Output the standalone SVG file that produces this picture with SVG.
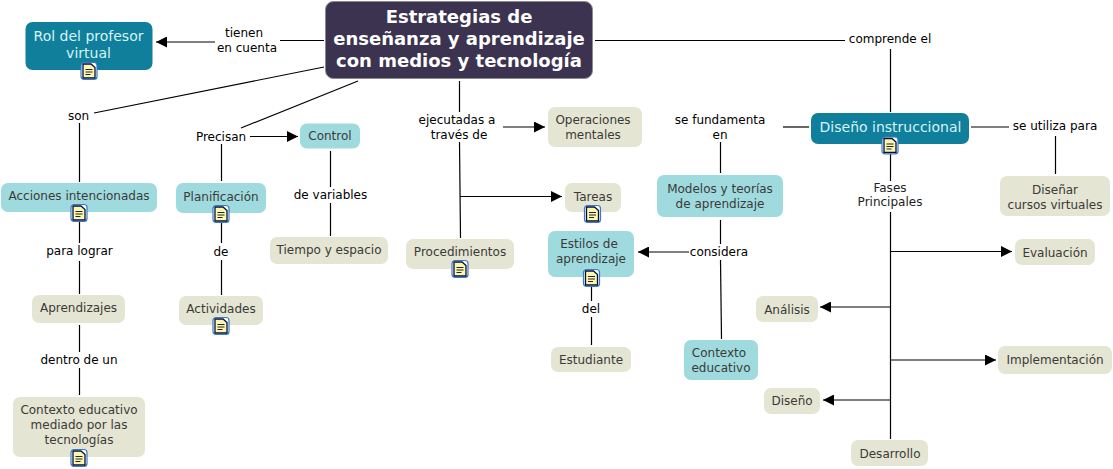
<svg xmlns="http://www.w3.org/2000/svg" width="1113" height="469" viewBox="0 0 1113 469">
<style>
text{font-family:"DejaVu Sans","Verdana",sans-serif;font-size:12px;text-anchor:middle}
.t{fill:#0f7f9b}.l{fill:#9fdade}.b{fill:#e4e5d2}
.tt{fill:#d6f3f7;font-size:14px}
.dk{fill:#3b3a38}.lab{fill:#000}
.c line{stroke:#000;stroke-width:1.2;fill:none}
.main{fill:#fff;font-size:18px;font-weight:bold}
</style>
<defs>
<marker id="a" viewBox="0 0 11 11" refX="11" refY="5.5" markerUnits="userSpaceOnUse" markerWidth="11" markerHeight="11" orient="auto"><path d="M0 0L11 5.5L0 11Z" fill="#000"/></marker>
<g id="i"><rect x="0.5" y="0.5" width="16" height="17" rx="3" fill="#fff" stroke="#3a78cc" stroke-width="1.2"/><path d="M2.5 2H10.5L14.5 5.5V16H2.5Z" fill="#fdf6b0" stroke="#00103a" stroke-width="1.3"/><path d="M5 7.5H12M5 10H12M5 12.5H10" stroke="#222" stroke-width="1"/></g>
</defs>
<g class="c" id="connectors">
<line x1="280" y1="40.5" x2="324" y2="40.5"/><line x1="215" y1="42" x2="156" y2="42" marker-end="url(#a)"/>
<line x1="324" y1="67" x2="94" y2="113"/><line x1="79.5" y1="123" x2="79.5" y2="182"/><line x1="79.5" y1="222" x2="79.5" y2="243"/><line x1="79.5" y1="261" x2="79.5" y2="294"/><line x1="79.5" y1="325" x2="79.5" y2="352"/><line x1="79.5" y1="368" x2="79.5" y2="395"/>
<line x1="358" y1="81" x2="241" y2="128"/><line x1="250" y1="136.5" x2="298" y2="136.5" marker-end="url(#a)"/><line x1="221.5" y1="144" x2="221.5" y2="181"/><line x1="221.5" y1="223" x2="221.5" y2="243"/><line x1="221.5" y1="260" x2="221.5" y2="295"/><line x1="330.5" y1="151" x2="330.5" y2="187"/><line x1="330.5" y1="203" x2="330.5" y2="236"/>
<line x1="459.5" y1="81" x2="459.5" y2="112"/><line x1="503" y1="127" x2="545" y2="127" marker-end="url(#a)"/><line x1="459.5" y1="142" x2="460.5" y2="238"/><line x1="460" y1="196.5" x2="562" y2="196.5" marker-end="url(#a)"/>
<line x1="783" y1="127" x2="809" y2="127"/><line x1="720.5" y1="142" x2="720.5" y2="173"/><line x1="720.5" y1="220" x2="720.5" y2="244"/><line x1="689" y1="252" x2="638" y2="252" marker-end="url(#a)"/><line x1="720.5" y1="260" x2="721.5" y2="339"/>
<line x1="591.5" y1="287" x2="591.5" y2="301"/><line x1="591.5" y1="317" x2="591.5" y2="345"/>
<line x1="595" y1="40.5" x2="845" y2="40.5"/><line x1="890.5" y1="49" x2="890.5" y2="112"/><line x1="971" y1="127" x2="1009" y2="127"/><line x1="1055.5" y1="136" x2="1055.5" y2="174"/><line x1="890.5" y1="153" x2="890.5" y2="181"/><line x1="890.5" y1="212" x2="890.5" y2="439"/>
<line x1="890" y1="251.5" x2="1012" y2="251.5" marker-end="url(#a)"/><line x1="890" y1="307" x2="820" y2="307" marker-end="url(#a)"/><line x1="890" y1="360" x2="996" y2="360" marker-end="url(#a)"/><line x1="890" y1="400" x2="823" y2="400" marker-end="url(#a)"/>
</g>
<g id="main"><rect x="325.5" y="1.5" width="267" height="77" rx="8" fill="#3b3350" stroke="#8b8a93"/><text class="main" x="459" y="23">Estrategias de</text><text class="main" x="459" y="45">enseñanza y aprendizaje</text><text class="main" x="459" y="67">con medios y tecnología</text></g>
<g id="rol"><rect class="t" x="25.5" y="22" width="127" height="48" rx="7"/><text class="tt" x="88.5" y="41">Rol del profesor</text><text class="tt" x="88.5" y="58">virtual</text><use href="#i" x="80.5" y="62"/></g>
<g id="disinst"><rect class="t" x="811" y="113" width="158" height="31" rx="7"/><text class="tt" x="890.5" y="132">Diseño instruccional</text><use href="#i" x="881.5" y="136.5"/></g>
<g id="acciones"><rect class="l" x="1" y="183" width="156" height="29" rx="7"/><text class="dk" x="79" y="200">Acciones intencionadas</text><use href="#i" x="70.5" y="204"/></g>
<g id="planif"><rect class="l" x="176" y="183" width="90" height="30" rx="7"/><text class="dk" x="221" y="201">Planificación</text><use href="#i" x="212.5" y="205"/></g>
<g id="control"><rect class="l" x="300" y="123.5" width="60" height="25" rx="7"/><text class="dk" x="330" y="140">Control</text></g>
<g id="tiempo"><rect class="b" x="270" y="237" width="118" height="27" rx="7"/><text class="dk" x="329" y="254">Tiempo y espacio</text></g>
<g id="aprend"><rect class="b" x="32" y="295" width="93" height="28" rx="7"/><text class="dk" x="78.5" y="312">Aprendizajes</text></g>
<g id="activ"><rect class="b" x="179" y="296" width="84" height="29" rx="7"/><text class="dk" x="221" y="313">Actividades</text><use href="#i" x="212.5" y="317"/></g>
<g id="ctxmed"><rect class="b" x="13" y="397" width="132" height="60" rx="7"/><text class="dk" x="79" y="414">Contexto educativo</text><text class="dk" x="79" y="429">mediado por las</text><text class="dk" x="79" y="444">tecnologías</text><use href="#i" x="70.5" y="449"/></g>
<g id="oper"><rect class="b" x="548" y="107" width="94" height="40" rx="7"/><text class="dk" x="593" y="124">Operaciones</text><text class="dk" x="593" y="139">mentales</text></g>
<g id="tareas"><rect class="b" x="565" y="183" width="56" height="29" rx="7"/><text class="dk" x="593" y="201">Tareas</text><use href="#i" x="584" y="205"/></g>
<g id="proced"><rect class="b" x="406" y="239" width="108" height="30" rx="7"/><text class="dk" x="460" y="256">Procedimientos</text><use href="#i" x="451.5" y="260"/></g>
<g id="estilos"><rect class="l" x="548" y="231" width="86" height="46" rx="7"/><text class="dk" x="589" y="248">Estilos de</text><text class="dk" x="591" y="263">aprendizaje</text><use href="#i" x="583" y="269"/></g>
<g id="estud"><rect class="b" x="551" y="347" width="80" height="25" rx="7"/><text class="dk" x="591" y="364">Estudiante</text></g>
<g id="ctxedu"><rect class="l" x="684" y="340" width="74" height="40" rx="7"/><text class="dk" x="719" y="357">Contexto</text><text class="dk" x="721" y="372">educativo</text></g>
<g id="modelos"><rect class="l" x="657" y="175" width="126" height="42" rx="7"/><text class="dk" x="720" y="193">Modelos y teorías</text><text class="dk" x="720" y="208">de aprendizaje</text></g>
<g id="disenar"><rect class="b" x="1000" y="176" width="110" height="40" rx="7"/><text class="dk" x="1055" y="194">Diseñar</text><text class="dk" x="1055" y="209">cursos virtuales</text></g>
<g id="eval"><rect class="b" x="1015" y="239" width="80" height="26" rx="7"/><text class="dk" x="1055" y="257">Evaluación</text></g>
<g id="analisis"><rect class="b" x="756" y="296" width="62" height="26" rx="7"/><text class="dk" x="787" y="314">Análisis</text></g>
<g id="impl"><rect class="b" x="998" y="346" width="114" height="28" rx="7"/><text class="dk" x="1055" y="364">Implementación</text></g>
<g id="diseno"><rect class="b" x="764" y="388" width="56" height="26" rx="7"/><text class="dk" x="792" y="405">Diseño</text></g>
<g id="desarrollo"><rect class="b" x="851" y="440" width="77" height="26" rx="7"/><text class="dk" x="890" y="458">Desarrollo</text></g>
<g id="labels" class="lab">
<text x="244" y="37">tienen</text><text x="247" y="52">en cuenta</text>
<text x="78.5" y="120">son</text>
<text x="221" y="141">Precisan</text>
<text x="330.5" y="199">de variables</text>
<text x="79.5" y="255">para lograr</text>
<text x="221" y="256">de</text>
<text x="79" y="364">dentro de un</text>
<text x="457" y="124">ejecutadas a</text><text x="459" y="139">través de</text>
<text x="720" y="124">se fundamenta</text><text x="720" y="139">en</text>
<text x="719" y="256">considera</text>
<text x="591" y="313">del</text>
<text x="890" y="43">comprende el</text>
<text x="1055" y="130">se utiliza para</text>
<text x="890" y="192" fill="#222">Fases</text><text x="890" y="206" fill="#222">Principales</text>
</g>
</svg>
